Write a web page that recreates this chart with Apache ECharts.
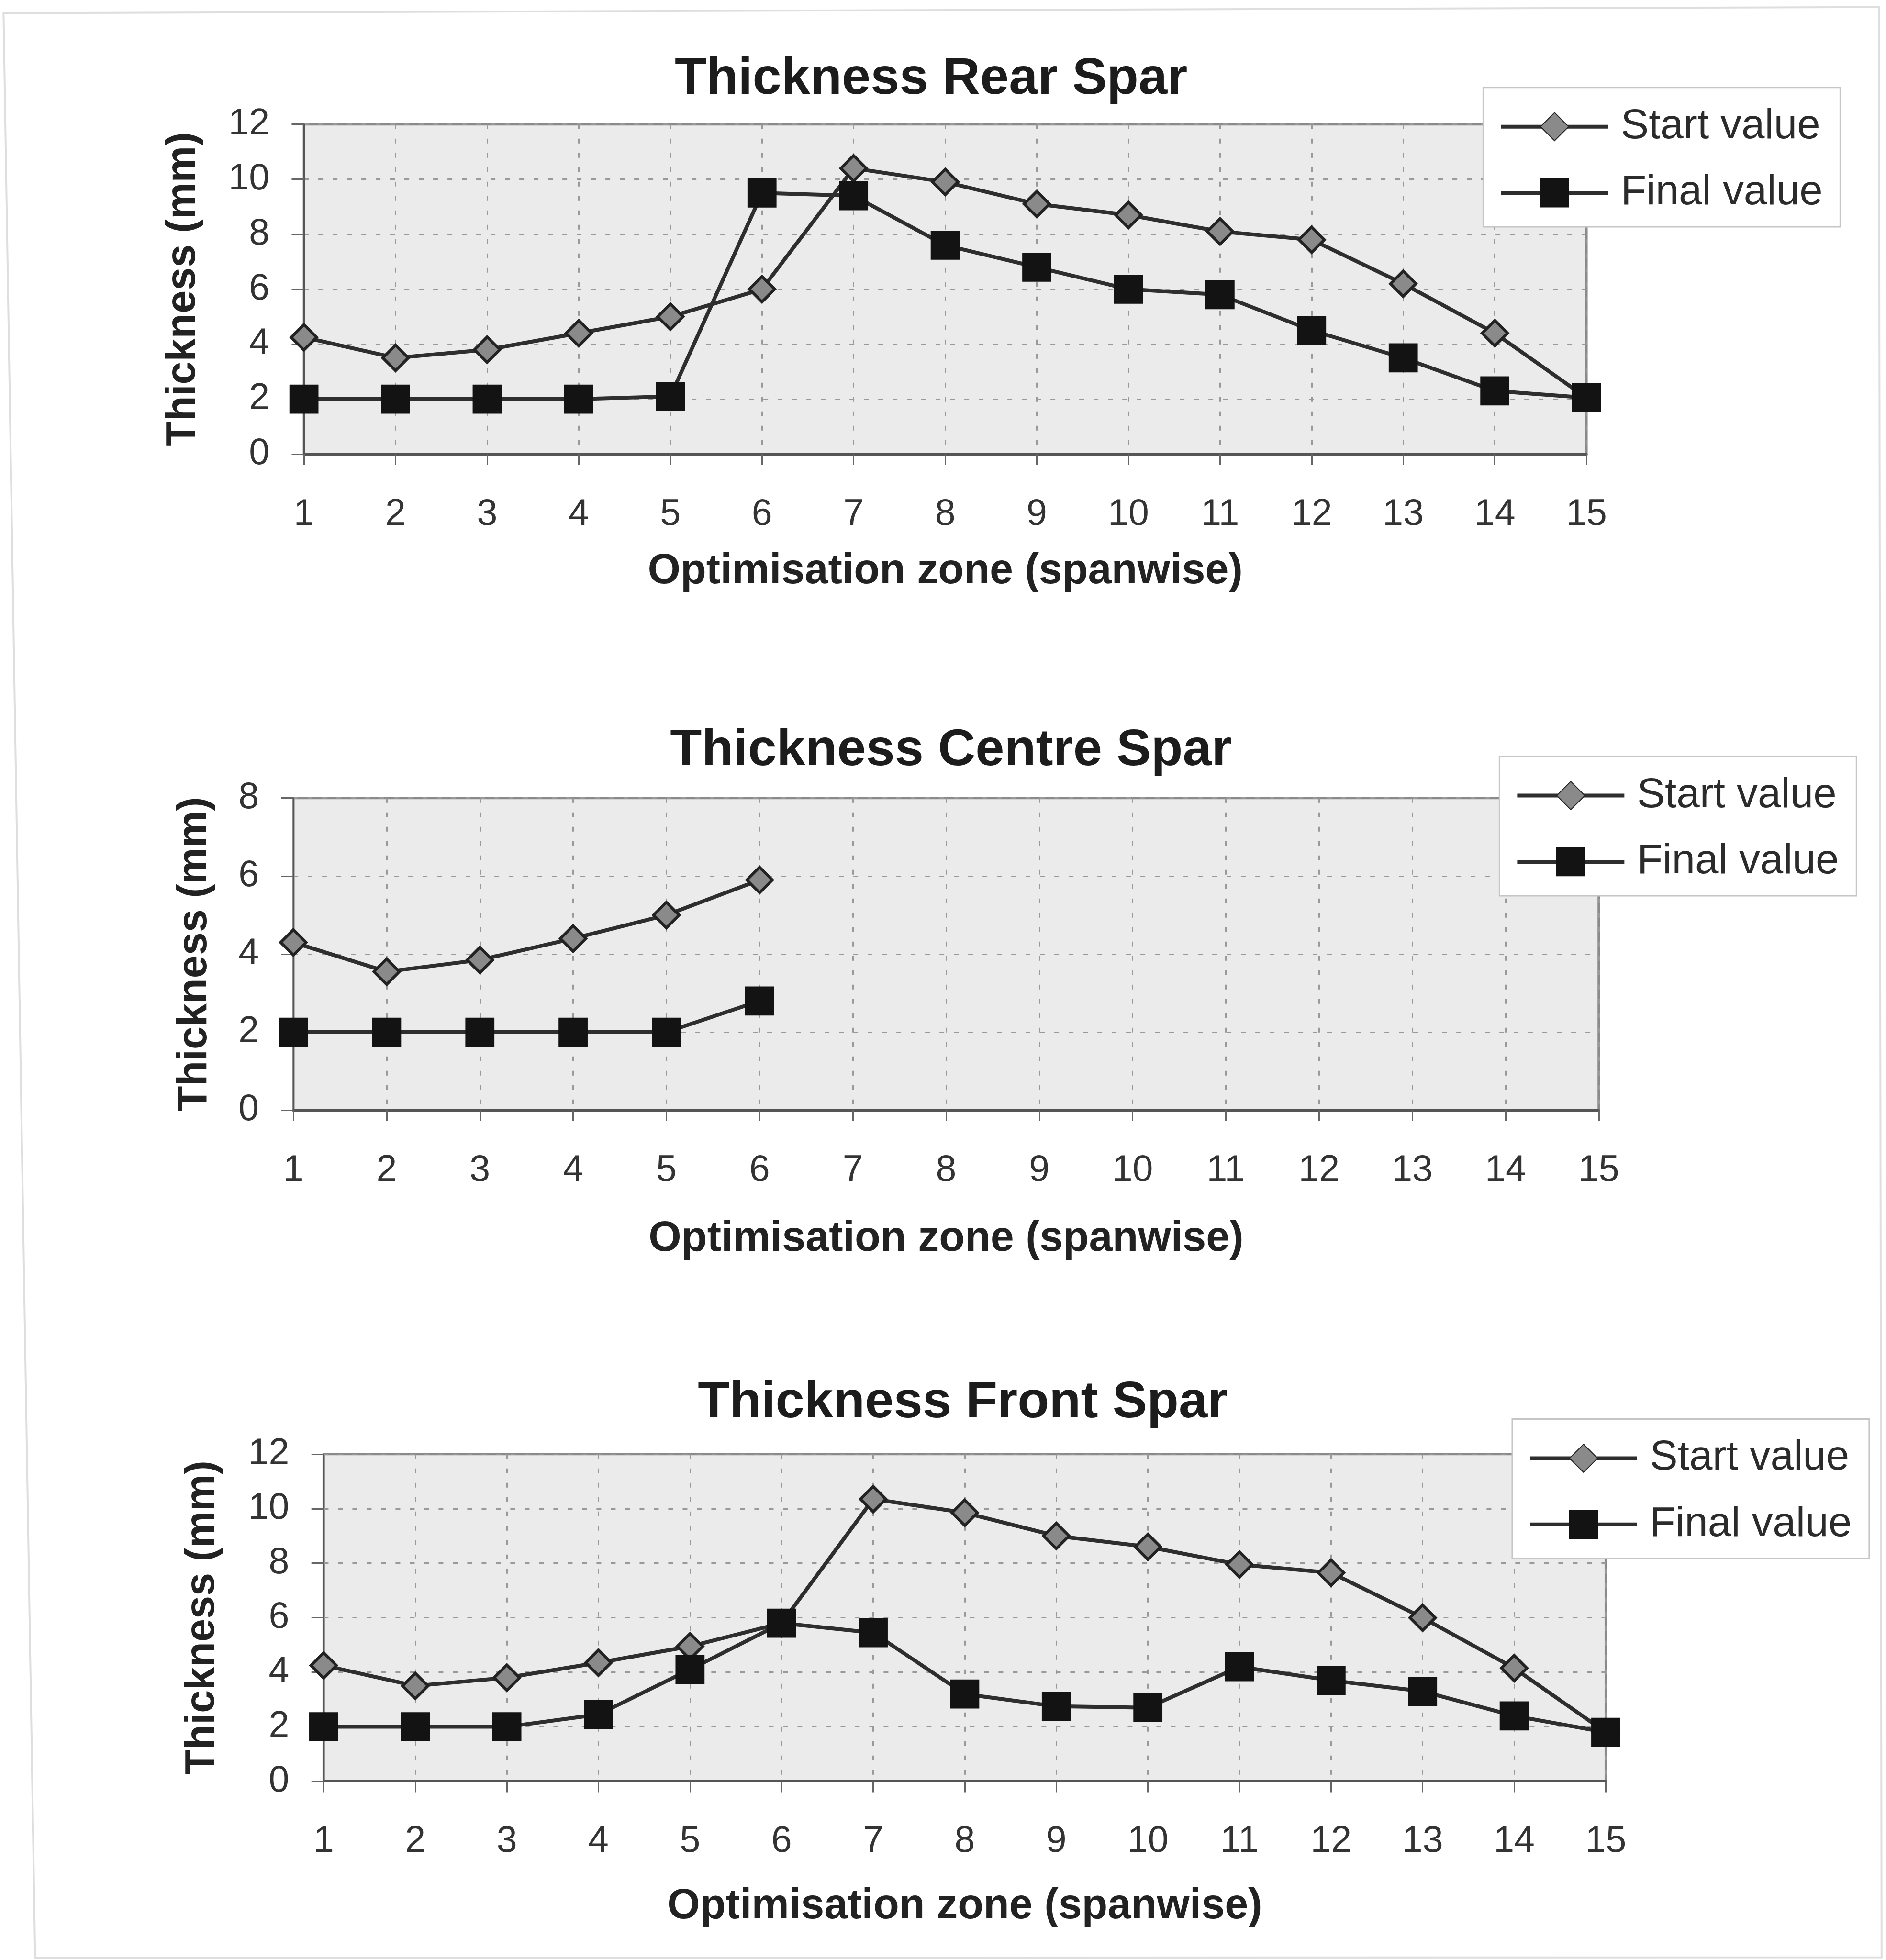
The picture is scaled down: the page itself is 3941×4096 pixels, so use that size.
<!DOCTYPE html>
<html>
<head>
<meta charset="utf-8">
<title>Spar thickness optimisation</title>
<script src="https://cdn.jsdelivr.net/npm/echarts@6/dist/echarts.min.js"></script>
<style>
  html, body { margin: 0; padding: 0; background: #ffffff; }
  #chart { width: 3941px; height: 4096px; }
</style>
</head>
<body>
<div id="chart"></div>
<script>
// Optimisation zones along the span
const zones = ['1', '2', '3', '4', '5', '6', '7', '8', '9', '10', '11', '12', '13', '14', '15'];

// Rear spar thickness (mm)
const rearStart = [4.25, 3.5, 3.8, 4.4, 5.0, 6.0, 10.4, 9.9, 9.1, 8.7, 8.1, 7.8, 6.2, 4.4, 2.05];
const rearFinal = [2.0, 2.0, 2.0, 2.0, 2.1, 9.5, 9.4, 7.6, 6.8, 6.0, 5.8, 4.5, 3.5, 2.3, 2.05];

// Centre spar thickness (mm) - only the first six zones carry a centre spar
const centreStart = [4.3, 3.55, 3.85, 4.4, 5.0, 5.9];
const centreFinal = [2.0, 2.0, 2.0, 2.0, 2.0, 2.8];

// Front spar thickness (mm)
const frontStart = [4.25, 3.5, 3.8, 4.35, 4.95, 5.8, 10.35, 9.85, 9.0, 8.6, 7.95, 7.65, 6.0, 4.15, 1.8];
const frontFinal = [2.0, 2.0, 2.0, 2.45, 4.1, 5.8, 5.45, 3.2, 2.75, 2.7, 4.2, 3.7, 3.3, 2.4, 1.8];

const seriesNames = ['Start value', 'Final value'];
const xTitle = 'Optimisation zone (spanwise)';
const yTitle = 'Thickness (mm)';

// Page layout is laid out on a 4294 x 4463 design grid and scaled to the canvas.
const S = 3941 / 4294;
const r = v => v * S;
const FONT = '"Liberation Sans", Arial, Helvetica, sans-serif';
const LINE_W = 8;

const panels = [
  { title: 'Thickness Rear Spar', start: rearStart, final: rearFinal, yMax: 12,
    titleX: 2120, titleY: 175, left: 692, right: 3612, top: 283, bottom: 1034,
    yNameGap: 209, xNameGap: 202, legendX: 3377, legendY: 199 },
  { title: 'Thickness Centre Spar', start: centreStart, final: centreFinal, yMax: 8,
    titleX: 2165, titleY: 1704, left: 668, right: 3640, top: 1817, bottom: 2528,
    yNameGap: 163, xNameGap: 226, legendX: 3414, legendY: 1722 },
  { title: 'Thickness Front Spar', start: frontStart, final: frontFinal, yMax: 12,
    titleX: 2192, titleY: 3189, left: 737, right: 3656, top: 3311, bottom: 4056,
    yNameGap: 210, xNameGap: 218, legendX: 3443, legendY: 3231 }
];

const grids = [], xAxes = [], yAxes = [], series = [], legends = [], graphics = [];

// Faint outer frame around the figure
graphics.push({
  type: 'polygon', silent: true, z: 0,
  shape: { points: [[r(8), r(30)], [r(4278), r(16)], [r(4284), r(4457)], [r(80), r(4458)]] },
  style: { fill: 'none', stroke: '#dedede', lineWidth: 4 }
});

panels.forEach((p, i) => {
  grids.push({
    left: r(p.left), top: r(p.top),
    width: r(p.right - p.left), height: r(p.bottom - p.top),
    show: true, backgroundColor: '#ebebeb',
    borderColor: '#8a8a8a', borderWidth: 5,
    containLabel: false, outerBoundsMode: 'none'
  });

  xAxes.push({
    gridIndex: i, type: 'category', data: zones, boundaryGap: false,
    axisLine: { show: true, lineStyle: { color: '#555555', width: 5 } },
    axisTick: { show: true, length: r(25), interval: 0, lineStyle: { color: '#666666', width: 3 } },
    axisLabel: { interval: 0, margin: 88, fontFamily: FONT, fontSize: r(84), color: '#333333' },
    splitLine: { show: true, interval: 0, lineStyle: { color: '#999999', width: 3, type: [10, 20] } },
    name: xTitle, nameLocation: 'middle', nameGap: p.xNameGap,
    nameTextStyle: { fontFamily: FONT, fontWeight: 'bold', fontSize: r(96), color: '#222222' }
  });

  yAxes.push({
    gridIndex: i, type: 'value', min: 0, max: p.yMax, interval: 2,
    axisLine: { show: true, lineStyle: { color: '#555555', width: 3 } },
    axisTick: { show: true, length: r(28), lineStyle: { color: '#666666', width: 3 } },
    axisLabel: { margin: 72, fontFamily: FONT, fontSize: r(84), color: '#333333' },
    splitLine: { show: true, lineStyle: { color: '#999999', width: 3, type: [10, 20] } },
    name: yTitle, nameLocation: 'middle', nameGap: p.yNameGap,
    nameTextStyle: { fontFamily: FONT, fontWeight: 'bold', fontSize: r(94), color: '#222222' }
  });

  series.push({
    name: seriesNames[0], type: 'line', xAxisIndex: i, yAxisIndex: i,
    data: p.start, symbol: 'diamond', symbolSize: r(58),
    lineStyle: { color: '#2e2e2e', width: LINE_W },
    itemStyle: { color: '#8a8a8a', borderColor: '#222222', borderWidth: 6 },
    z: 3
  });
  series.push({
    name: seriesNames[1], type: 'line', xAxisIndex: i, yAxisIndex: i,
    data: p.final, symbol: 'rect', symbolSize: r(64),
    lineStyle: { color: '#2e2e2e', width: LINE_W },
    itemStyle: { color: '#131313', borderColor: '#131313', borderWidth: 2 },
    z: 4
  });

  legends.push({
    data: seriesNames, orient: 'vertical',
    left: r(p.legendX), top: r(p.legendY),
    padding: [r(42), r(40), r(30), r(36)],
    itemWidth: r(244), itemHeight: r(80), itemGap: r(56),
    backgroundColor: '#ffffff', borderColor: '#c6c6c6', borderWidth: 3,
    selectedMode: false,
    lineStyle: { width: LINE_W },
    textStyle: { fontFamily: FONT, fontSize: r(95), color: '#2b2b2b',
                 lineHeight: r(80), padding: [0, 0, 0, r(29) - 5] }
  });

  graphics.push({
    type: 'text', silent: true, z: 10,
    x: r(p.titleX), y: r(p.titleY) + 0.05 * r(118),
    style: { text: p.title, fontFamily: FONT, fontWeight: 'bold', fontSize: r(118),
             fill: '#1c1c1c', align: 'center', verticalAlign: 'middle' }
  });
});

const chart = echarts.init(document.getElementById('chart'), null, { renderer: 'canvas' });
chart.setOption({
  backgroundColor: '#ffffff',
  animation: false,
  grid: grids,
  xAxis: xAxes,
  yAxis: yAxes,
  legend: legends,
  series: series,
  graphic: graphics
});
</script>
</body>
</html>
